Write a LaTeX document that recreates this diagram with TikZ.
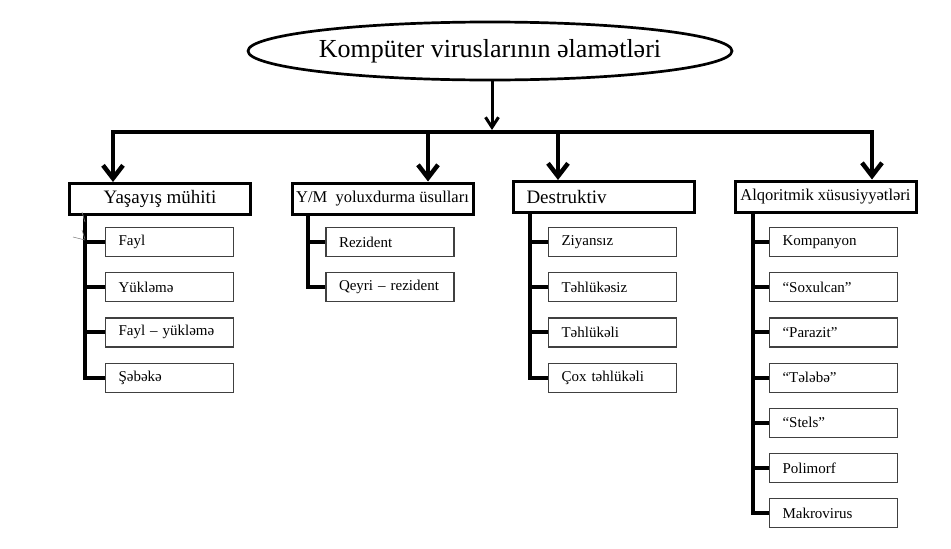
\documentclass[tikz,border=0pt]{standalone}
\usepackage{fontspec}
\setmainfont{Liberation Serif}
\usetikzlibrary{arrows.meta, positioning, shapes.geometric}

\begin{document}
\begin{tikzpicture}[
  x=1pt, y=-1pt,
  title/.style={draw, ellipse, line width=2.7pt, minimum width=478pt, minimum height=58pt, inner sep=0pt, font=\fontsize{26}{30}\selectfont},
  cat/.style={draw, line width=3pt, minimum width=181pt, minimum height=31pt, inner sep=0pt, font=\fontsize{19}{22}\selectfont},
  catsmall/.style={cat, font=\fontsize{16.5}{19}\selectfont},
  sub/.style={draw=black!75, line width=1.2pt, text width=102pt, align=left, inner xsep=13pt, inner ysep=0pt, minimum height=29pt, font=\fontsize{15}{18}\selectfont},
  bus/.style={line width=4.5pt, line cap=rect},
  drop/.style={line width=4.5pt, -{Straight Barb[length=13pt, width=20pt]}},
  arr/.style={line width=3pt, -{Straight Barb[length=10pt, width=13pt]}},
  trunk/.style={line width=4pt, line join=miter},
  tick/.style={draw=gray, line width=0.6pt}
]
  \useasboundingbox (0,0) rectangle (951,549);
  % title and bus
  \node[title] (T) at (490,51) {Kompüter viruslarının əlamətləri};
  \coordinate (b0) at (492,130);
  \coordinate (b1) at (113,132);
  \coordinate (b2) at (428,132);
  \coordinate (b3) at (558,132);
  \coordinate (b4) at (872,132);
  % categories
  \node[cat] (YAS) at (160,199) {Yaşayış mühiti};
  \node[catsmall] (YM) at (382.5,198.5) {Y/M\ \ yoluxdurma üsulları};
  \node[cat, text width=155pt, align=left, inner xsep=13pt] (DES) at (604,197) {Destruktiv};
  \node[catsmall] (ALQ) at (825.5,196.5) {Alqoritmik xüsusiyyətləri};
  % Yaşayış mühiti
  \node[sub] (YAS1) at (169.5,242) {Fayl};
  \node[sub, below=15pt of YAS1] (YAS2) {Yükləmə};
  \node[sub, below=15pt of YAS2] (YAS3) {Fayl -- yükləmə};
  \node[sub, below=15pt of YAS3] (YAS4) {Şəbəkə};
  % Y/M yoluxdurma üsulları
  \node[sub] (YM1) at (390,242) {Rezident};
  \node[sub, below=15pt of YM1] (YM2) {Qeyri -- rezident};
  % Destruktiv
  \node[sub] (DES1) at (612.5,242) {Ziyansız};
  \node[sub, below=15pt of DES1] (DES2) {Təhlükəsiz};
  \node[sub, below=15pt of DES2] (DES3) {Təhlükəli};
  \node[sub, below=15pt of DES3] (DES4) {Çox təhlükəli};
  % Alqoritmik xüsusiyyətləri
  \node[sub] (ALQ1) at (833.5,242) {Kompanyon};
  \node[sub, below=15pt of ALQ1] (ALQ2) {“Soxulcan”};
  \node[sub, below=15pt of ALQ2] (ALQ3) {“Parazit”};
  \node[sub, below=15pt of ALQ3] (ALQ4) {“Tələbə”};
  \node[sub, below=15pt of ALQ4] (ALQ5) {“Stels”};
  \node[sub, below=15pt of ALQ5] (ALQ6) {Polimorf};
  \node[sub, below=15pt of ALQ6] (ALQ7) {Makrovirus};
  % arrows
  \draw[arr] (T.south -| b0) -- (b0);
  \draw[bus] (b1) -- (b4);
  \draw[drop] (b1) -- (b1 |- YAS.north);
  \draw[drop] (b2) -- (b2 |- YM.north);
  \draw[drop] (b3) -- (b3 |- DES.north);
  \draw[drop] (b4) -- (b4 |- ALQ.north);
  % trunks
  \coordinate (tYAS) at ([xshift=17pt]YAS.south west);
  \coordinate (tYM) at ([xshift=17pt]YM.south west);
  \coordinate (tDES) at ([xshift=18pt]DES.south west);
  \coordinate (tALQ) at ([xshift=19pt]ALQ.south west);
  \draw[trunk] (tYAS) |- (YAS4.west);
  \draw[trunk] (tYAS |- YAS1.west) -- (YAS1.west);
  \draw[trunk] (tYAS |- YAS2.west) -- (YAS2.west);
  \draw[trunk] (tYAS |- YAS3.west) -- (YAS3.west);
  \draw[trunk] (tYM) |- (YM2.west);
  \draw[trunk] (tYM |- YM1.west) -- (YM1.west);
  \draw[trunk] (tDES) |- (DES4.west);
  \draw[trunk] (tDES |- DES1.west) -- (DES1.west);
  \draw[trunk] (tDES |- DES2.west) -- (DES2.west);
  \draw[trunk] (tDES |- DES3.west) -- (DES3.west);
  \draw[trunk] (tALQ) |- (ALQ7.west);
  \draw[trunk] (tALQ |- ALQ1.west) -- (ALQ1.west);
  \draw[trunk] (tALQ |- ALQ2.west) -- (ALQ2.west);
  \draw[trunk] (tALQ |- ALQ3.west) -- (ALQ3.west);
  \draw[trunk] (tALQ |- ALQ4.west) -- (ALQ4.west);
  \draw[trunk] (tALQ |- ALQ5.west) -- (ALQ5.west);
  \draw[trunk] (tALQ |- ALQ6.west) -- (ALQ6.west);
  % grey marks by the first trunk
  \draw[tick] (82,212) -- (85,222);
  \draw[tick] (73,237) -- (85,240);
  \draw[tick] (82,230) -- (85,239);
\end{tikzpicture}
\end{document}
